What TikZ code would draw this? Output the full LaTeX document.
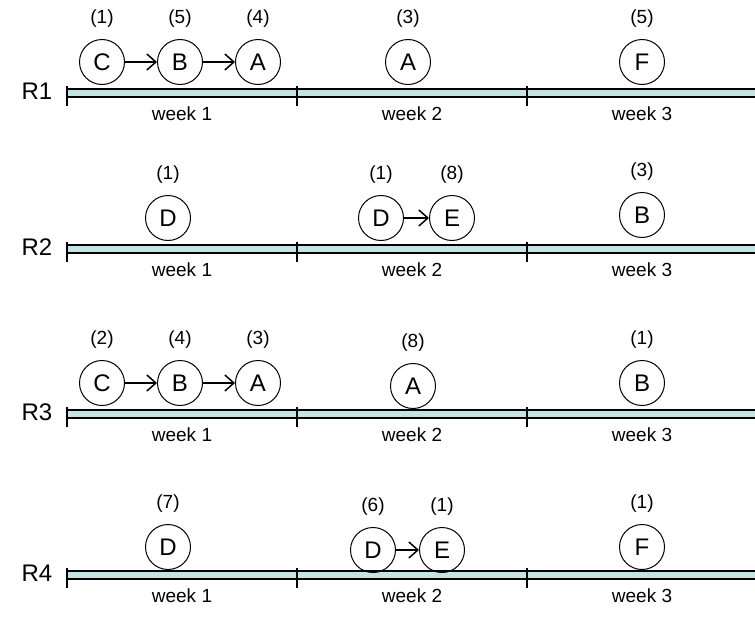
\documentclass[tikz,border=0pt]{standalone}
\usepackage{fontspec}
\setmainfont{Liberation Sans}
\usepackage{tikz}
\usetikzlibrary{positioning,arrows.meta}
\definecolor{lanecyan}{RGB}{196,228,228}
\tikzset{task/.style={draw,circle,line width=1pt,minimum size=45pt,inner sep=0pt,text=black,
          font=\fontsize{24}{26}\selectfont},
        prio/.style={label={[label distance=8pt,font=\fontsize{19}{21}\selectfont]above:#1}},
        week/.style={font=\fontsize{19}{21}\selectfont},
        rowname/.style={font=\fontsize{24}{26}\selectfont}
        }
\tikzstyle{dep} = [line width=1.4pt,-{Straight Barb[length=9pt,width=16pt,line width=1.5pt]}]

\begin{document}
\begin{tikzpicture}[x=1pt,y=-1pt]
	\useasboundingbox (0,0) rectangle (755,621);

	% lanes
	\foreach \r/\y in {1/93,2/249,3/414,4/575} {
		\fill[lanecyan] (67,\y-4) rectangle (755,\y+4);
		\draw[line width=1.8pt] (67,\y-4) -- (755,\y-4) (67,\y+4) -- (755,\y+4);
		\foreach \x in {67,297,527}
			\draw[line width=1.3pt] (\x,\y-7) -- (\x,\y+13);
		\node[rowname] (R\r) at (37,\y-2) {R\r};
		\node[week] (w1r\r) at (182,\y+21) {week 1};
		\node[week] (w2r\r) at (412,\y+21) {week 2};
		\node[week] (w3r\r) at (642,\y+21) {week 3};
	}

	% R1
	\node[task,prio=(1)] (C1) at (102,62) {C};
	\node[task,prio=(5)] (B1) at (180,62) {B};
	\node[task,prio=(4)] (A1) at (258,62) {A};
	\node[task,prio=(3)] (A1b) at (408,62) {A};
	\node[task,prio=(5)] (F1) at (642,62) {F};
	\draw[dep] (C1) -- (B1);
	\draw[dep] (B1) -- (A1);

	% R2
	\node[task,prio=(1)] (D2) at (168,218) {D};
	\node[task,prio=(1)] (D2b) at (381,218) {D};
	\node[task,prio=(8)] (E2) at (452,218) {E};
	\node[task,prio=(3)] (B2) at (642,215) {B};
	\draw[dep] (D2b) -- (E2);

	% R3
	\node[task,prio=(2)] (C3) at (102,383) {C};
	\node[task,prio=(4)] (B3) at (180,383) {B};
	\node[task,prio=(3)] (A3) at (258,383) {A};
	\node[task,prio=(8)] (A3b) at (413,386) {A};
	\node[task,prio=(1)] (B3b) at (642,383) {B};
	\draw[dep] (C3) -- (B3);
	\draw[dep] (B3) -- (A3);

	% R4
	\node[task,prio=(7)] (D4) at (168,547) {D};
	\node[task,prio=(6)] (D4b) at (373,550) {D};
	\node[task,prio=(1)] (E4) at (442,550) {E};
	\node[task,prio=(1)] (F4) at (642,547) {F};
	\draw[dep] (D4b) -- (E4);
\end{tikzpicture}
\end{document}
